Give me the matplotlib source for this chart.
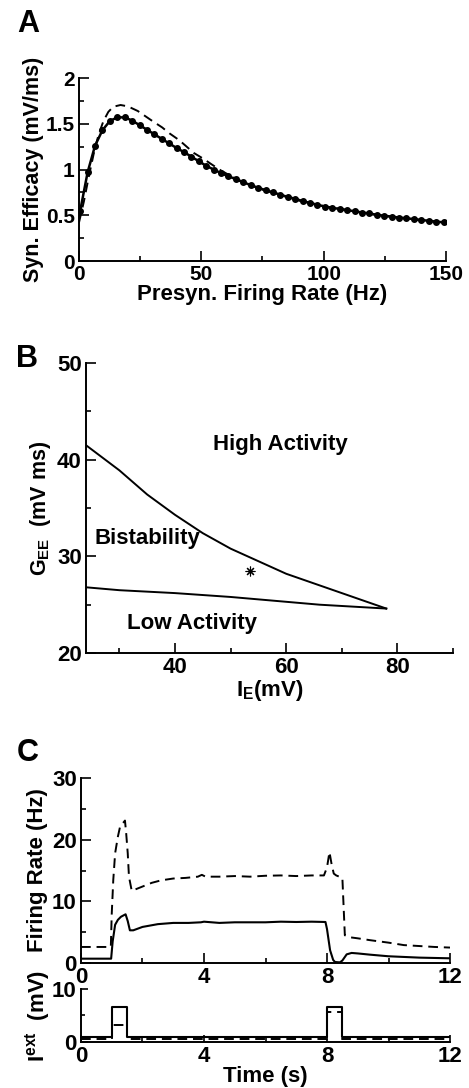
import numpy as np
import matplotlib
matplotlib.use("Agg")
import matplotlib.pyplot as plt

plt.rcParams['font.family'] = ['Liberation Sans', 'DejaVu Sans']
plt.rcParams['font.weight'] = 'bold'
plt.rcParams['axes.labelweight'] = 'bold'
plt.rcParams['mathtext.fontset'] = 'custom'
plt.rcParams['mathtext.rm'] = 'Liberation Sans:bold'
plt.rcParams['mathtext.it'] = 'Liberation Sans:bold'
plt.rcParams['mathtext.bf'] = 'Liberation Sans:bold'

# ---- panel A: synaptic efficacy vs presynaptic rate
rate_dots = np.linspace(0.5, 149, 50)
eff_dots = [0.55, 0.97, 1.26, 1.43, 1.53, 1.57, 1.57, 1.535, 1.485, 1.435,
            1.385, 1.335, 1.285, 1.235, 1.19, 1.14, 1.09, 1.04, 1.00, 0.96,
            0.925, 0.895, 0.86, 0.83, 0.80, 0.775, 0.75, 0.725, 0.70, 0.68,
            0.655, 0.635, 0.615, 0.595, 0.58, 0.57, 0.555, 0.545, 0.53, 0.52,
            0.505, 0.495, 0.485, 0.475, 0.467, 0.458, 0.448, 0.44, 0.43, 0.423]
rate_dash = [0, 2, 4, 6, 8, 10, 12, 14, 17, 20, 24, 27, 30, 34, 37, 41, 44, 47,
             51, 54, 58, 62, 66, 70, 75, 80, 90, 100, 110, 120, 130, 140, 150]
eff_dash = [0.42, 0.65, 0.92, 1.17, 1.38, 1.53, 1.63, 1.686, 1.705, 1.69, 1.64,
            1.585, 1.53, 1.46, 1.395, 1.32, 1.25, 1.18, 1.115, 1.06, 0.99, 0.93,
            0.875, 0.83, 0.78, 0.74, 0.66, 0.60, 0.555, 0.51, 0.475, 0.445, 0.42]

# ---- panel B: phase diagram
ie_upper = [24, 30, 35, 40, 45, 50, 55, 60, 65, 70, 75, 78]
gee_upper = [41.5, 38.9, 36.4, 34.3, 32.4, 30.8, 29.5, 28.2, 27.2, 26.2, 25.2, 24.6]
ie_lower = [24, 30, 40, 50, 60, 66, 72, 78]
gee_lower = [26.8, 26.5, 26.2, 25.8, 25.3, 25.0, 24.8, 24.6]
star_ie, star_gee = 53.5, 28.5
region_names = ['High Activity', 'Bistability', 'Low Activity']
region_ie = [58.9, 35.1, 43.1]
region_gee = [41.6, 31.8, 23.1]

# ---- panel C: firing rates and external input
t_dash = [0, 0.97, 1.0, 1.05, 1.11, 1.2, 1.27, 1.35, 1.43, 1.47, 1.52, 1.56,
          1.65, 1.8, 2.0, 2.3, 2.6, 3.0, 3.4, 3.8, 3.93, 4.05, 4.5, 5.0, 5.5,
          6.0, 6.5, 7.0, 7.5, 7.9, 8.0, 8.08, 8.15, 8.22, 8.3, 8.45, 8.5,
          8.58, 8.7, 9.0, 9.4, 10.0, 10.5, 11.0, 11.5, 12.0]
fr_dash = [2.6, 2.6, 8.0, 13.5, 17.8, 20.5, 22.1, 22.6, 23.1, 21.0, 17.8, 14.0,
           11.7, 12.0, 12.4, 13.0, 13.4, 13.7, 13.8, 14.0, 14.3, 14.0, 14.0, 14.1,
           14.0, 14.15, 14.2, 14.1, 14.2, 14.2, 15.5, 18.0, 16.0, 14.5, 14.2,
           13.9, 13.8, 4.5, 4.2, 4.0, 3.7, 3.3, 2.9, 2.75, 2.6, 2.5]
t_solid = [0, 0.98, 1.03, 1.11, 1.2, 1.3, 1.45, 1.52, 1.59, 1.7, 2.0, 2.5, 3.0,
           3.5, 3.9, 4.0, 4.5, 5.0, 5.5, 6.0, 6.5, 7.0, 7.5, 7.95, 8.0, 8.1,
           8.2, 8.26, 8.42, 8.5, 8.64, 8.8, 9.0, 9.4, 10.0, 11.0, 12.0]
fr_solid = [0.7, 0.7, 3.5, 6.2, 7.0, 7.5, 7.9, 6.8, 5.3, 5.3, 5.85, 6.3, 6.5,
            6.5, 6.6, 6.7, 6.5, 6.6, 6.6, 6.6, 6.7, 6.65, 6.7, 6.65, 5.5, 2.07,
            0.5, 0.16, 0.1, 0.4, 1.4, 1.63, 1.55, 1.35, 1.09, 0.87, 0.76]
t_input = [0, 1.0, 1.0, 1.5, 1.5, 8.0, 8.0, 8.5, 8.5, 12]
iext_solid = [1.0, 1.0, 6.6, 6.6, 1.0, 1.0, 6.6, 6.6, 1.0, 1.0]
iext_dash = [0.55, 0.55, 3.25, 3.25, 0.55, 0.55, 5.65, 5.65, 0.55, 0.55]

fig = plt.figure(figsize=(4.69, 10.88), dpi=100)


def style(ax, tick_size=15):
    for s in ['top', 'right']:
        ax.spines[s].set_visible(False)
    for s in ['left', 'bottom']:
        ax.spines[s].set_linewidth(1.4)
    ax.tick_params(which='both', direction='in', top=False, right=False,
                   labelsize=tick_size, width=1.2, pad=3)
    ax.tick_params(which='major', length=7)
    ax.tick_params(which='minor', length=3.5)


# A
axA = fig.add_axes([0.1684, 0.7601, 0.7825, 0.1682])
axA.plot(rate_dash, eff_dash, 'k--', lw=1.4, dashes=(5, 3))
axA.plot(rate_dots, eff_dots, 'k-', lw=1.8, marker='o', ms=4)
axA.set_xlim(0, 150)
axA.set_ylim(0, 2)
axA.set_xticks([0, 50, 100, 150])
axA.set_xticks([25, 75, 125], minor=True)
axA.set_yticks([0, 0.5, 1, 1.5, 2])
axA.set_yticklabels(['0', '0.5', '1', '1.5', '2'])
axA.set_yticks([0.25, 0.75, 1.25, 1.75], minor=True)
style(axA)
axA.set_xlabel('Presyn. Firing Rate (Hz)', fontsize=16, labelpad=0)
axA.set_ylabel('Syn. Efficacy (mV/ms)', fontsize=15.5, labelpad=1)
fig.text(28 / 469, 1 - 24 / 1088, 'A', fontsize=22, fontweight='bold',
         ha='center', va='center')

# B
axB = fig.add_axes([0.1834, 0.3998, 0.7825, 0.2665])
axB.plot(ie_upper, gee_upper, 'k-', lw=1.4)
axB.plot(ie_lower, gee_lower, 'k-', lw=1.4)
axB.plot([star_ie], [star_gee], 'k', marker=(8, 2, 0), ms=7, mew=0.8, ls='none')
for name, x, y in zip(region_names, region_ie, region_gee):
    axB.text(x, y, name, fontsize=16, fontweight='bold', ha='center', va='center')
axB.set_xlim(24, 90)
axB.set_ylim(20, 50)
axB.set_xticks([40, 60, 80])
axB.set_xticks([30, 50, 70, 90], minor=True)
axB.set_yticks([20, 30, 40, 50])
axB.set_yticks([25, 35, 45], minor=True)
style(axB, 16)
axB.set_xlabel(r'I$_{\mathrm{E}}$(mV)', fontsize=16, labelpad=0)
axB.set_ylabel(r'G$_{\mathrm{EE}}$  (mV ms)', fontsize=15.5, labelpad=3)
fig.text(27 / 469, 1 - 359 / 1088, 'B', fontsize=22, fontweight='bold',
         ha='center', va='center')

# C top
axC = fig.add_axes([0.1727, 0.1149, 0.7868, 0.1700])
axC.plot(t_dash, fr_dash, 'k--', lw=1.4, dashes=(5, 3))
axC.plot(t_solid, fr_solid, 'k-', lw=1.5)
axC.set_xlim(0, 12)
axC.set_ylim(0, 30)
axC.set_xticks([0, 4, 8, 12])
axC.set_xticks([2, 6, 10], minor=True)
axC.set_yticks([0, 10, 20, 30])
axC.set_yticks([5, 15, 25], minor=True)
style(axC, 16)
axC.set_ylabel('Firing Rate (Hz)', fontsize=16, labelpad=3)
fig.text(28 / 469, 1 - 753 / 1088, 'C', fontsize=22, fontweight='bold',
         ha='center', va='center')

# C bottom
axI = fig.add_axes([0.1727, 0.0423, 0.7868, 0.0487])
axI.plot(t_input, iext_dash, 'k--', lw=1.4, dashes=(5, 3))
axI.plot(t_input, iext_solid, 'k-', lw=1.5)
axI.set_xlim(0, 12)
axI.set_ylim(0, 10)
axI.set_xticks([0, 4, 8, 12])
axI.set_xticks([2, 6, 10], minor=True)
axI.set_yticks([0, 10])
axI.set_yticks([5], minor=True)
style(axI, 16)
axI.tick_params(which='major', length=5)
axI.tick_params(which='minor', length=3)
axI.set_xlabel('Time (s)', fontsize=16, labelpad=-1)
axI.set_ylabel(r'I$^{\mathrm{ext}}$  (mV)', fontsize=16, labelpad=0)

fig.savefig('out.png', dpi=100)
